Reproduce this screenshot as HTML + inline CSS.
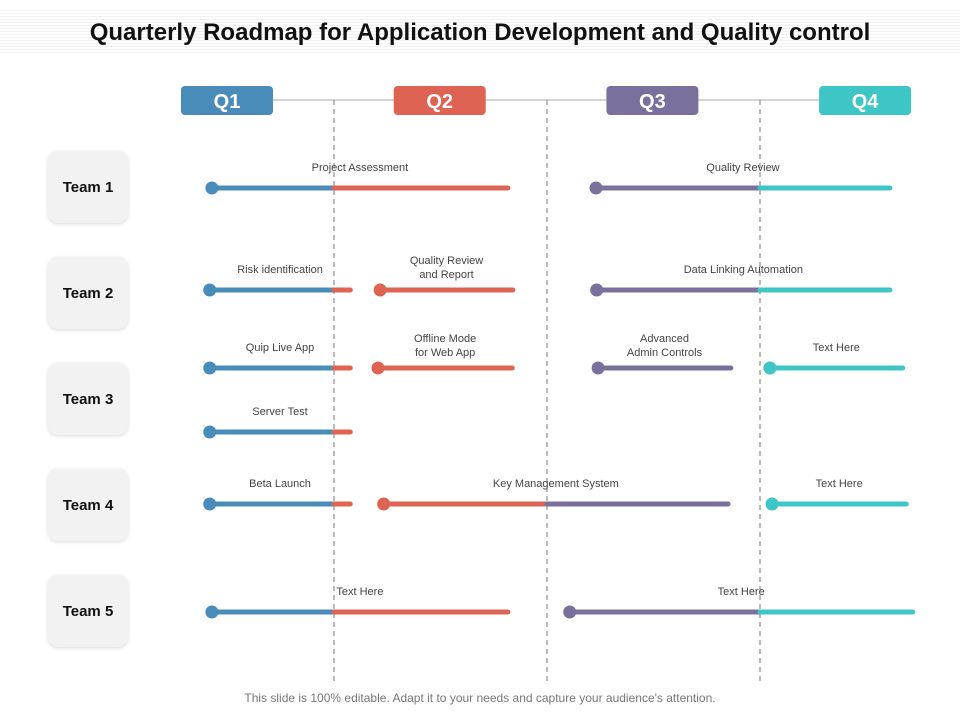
<!DOCTYPE html>
<html><head><meta charset="utf-8"><style>
body{margin:0;width:960px;height:720px;background:#fff;overflow:hidden;font-family:"Liberation Sans",sans-serif}
#stripes{position:absolute;left:0;top:8px;width:960px;height:45px;background:repeating-linear-gradient(#fff 0 2px,#f1f1f1 2px 3px)}
#title{position:absolute;left:0;top:19px;width:960px;text-align:center;font-weight:bold;font-size:24px;color:#111}
.team{position:absolute;left:48px;width:80px;height:72px;border-radius:10px;background:#f2f2f2;box-shadow:0 1px 4px rgba(0,0,0,.15);font-weight:bold;font-size:15px;display:flex;align-items:center;justify-content:center;color:#111}
#foot{position:absolute;left:0;top:691px;width:960px;text-align:center;font-size:12px;color:#777}
svg{position:absolute;left:0;top:0}
</style></head><body>
<div id="stripes"></div>
<div id="title">Quarterly Roadmap for Application Development and Quality control</div>
<div class="team" style="top:151px">Team 1</div>
<div class="team" style="top:257px">Team 2</div>
<div class="team" style="top:363px">Team 3</div>
<div class="team" style="top:469px">Team 4</div>
<div class="team" style="top:575px">Team 5</div>
<svg id="chart" width="960" height="720"></svg>
<div id="foot">This slide is 100% editable. Adapt it to your needs and capture your audience's attention.</div>
<script>
const quarters=["Q1","Q2","Q3","Q4"];
const quarterColors=["#4a8cb9","#df6352","#7b6f9c","#3ec5c5"];
const taskLabels=["Project Assessment","Quality Review","Risk identification","Quality Review|and Report","Data Linking Automation","Quip Live App","Offline Mode|for Web App","Advanced|Admin Controls","Text Here","Server Test","Beta Launch","Key Management System","Text Here","Text Here","Text Here"];
const taskRows=[0,0,1,1,1,2,2,2,2,3,4,4,4,5,5];
const taskStart=[1.28,6.69,1.25,3.65,6.70,1.25,3.62,6.72,9.14,1.25,1.25,3.70,9.17,1.28,6.32];
const taskEnd=[5.45,10.83,3.23,5.52,10.83,3.23,5.51,8.59,11.01,3.23,3.23,8.55,11.06,5.45,11.15];
const rowY=[188,290,368,432,504,612];
const X=m=>121+m*71;
const svg=document.getElementById('chart');const NS="http://www.w3.org/2000/svg";
function mk(t,a){const e=document.createElementNS(NS,t);for(const k in a)e.setAttribute(k,a[k]);svg.appendChild(e);return e;}
let hl=mk('line',{x1:273,y1:100,x2:819,y2:100,stroke:'#aaa','stroke-width':1});


for(let q=1;q<4;q++){let d=mk('line',{x1:X(q*3),y1:100,x2:X(q*3),y2:682,stroke:'#777','stroke-width':1,'stroke-dasharray':'5,4'});

}
quarters.forEach((q,i)=>{const cx=227+i*212.7;
let r=mk('rect',{x:cx-46,y:86,width:92,height:29,rx:4,fill:quarterColors[i]});


let t=mk('text',{x:cx,y:108,'text-anchor':'middle','font-size':20,'font-weight':'bold',fill:'#fff'});t.textContent=q;

});
taskLabels.forEach((lab,i)=>{const y=rowY[taskRows[i]],s=taskStart[i],e=taskEnd[i];
let m=s;while(m<e){const q=Math.min(3,Math.floor(m/3));const nx=q<3?Math.min(e,(q+1)*3):e;
let seg=mk('line',{x1:X(m),y1:y,x2:X(nx),y2:y,stroke:quarterColors[q],'stroke-width':5,'stroke-linecap':nx==e?'round':'butt'});


m=nx;}
let c=mk('circle',{cx:X(s),cy:y,r:6.5,fill:quarterColors[Math.min(3,Math.floor(s/3))]});


const parts=lab.split('|');const cx=(X(s)+X(e))/2;
parts.forEach((p,j)=>{let t=mk('text',{x:cx,y:y-(parts.length==1?17:(parts.length-j)*14-2),'text-anchor':'middle','font-size':11,fill:'#444'});t.textContent=p;

});});
</script>
</body></html>
